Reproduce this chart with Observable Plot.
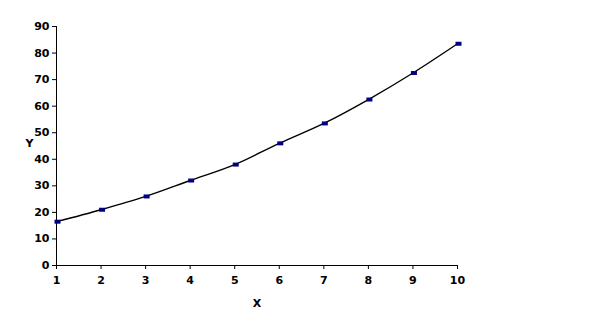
<!DOCTYPE html>
<html>
<head>
<meta charset="utf-8">
<script src="https://cdn.jsdelivr.net/npm/d3@7"></script>
<script src="https://cdn.jsdelivr.net/npm/@observablehq/plot@0.6"></script>
<style>
  html, body { margin: 0; padding: 0; background: #fff; }
  svg { display: block; }
</style>
</head>
<body>
<div id="chart"></div>
<script>
const xs = [1, 2, 3, 4, 5, 6, 7, 8, 9, 10];
const ys = [16.5, 21, 26, 32, 38, 46, 53.5, 62.5, 72.5, 83.5];
const xTicks = [1, 2, 3, 4, 5, 6, 7, 8, 9, 10];
const yTicks = [0, 10, 20, 30, 40, 50, 60, 70, 80, 90];

const data = xs.map((x, i) => ({x, y: ys[i]}));

const rectSymbol = { draw(ctx) { ctx.rect(-3, -2, 6, 4); } };

const chart = Plot.plot({
  width: 590,
  height: 335,
  marginLeft: 56,
  marginRight: 133,
  marginTop: 26,
  marginBottom: 70,
  style: { fontFamily: "DejaVu Sans", fontSize: "11px", fontWeight: "bold", color: "#000", background: "#fff" },
  x: { domain: [1, 10], ticks: xTicks, label: null },
  y: { domain: [0, 90], ticks: yTicks, label: null },
  marks: [
    Plot.axisX({ ticks: xTicks, tickSize: 4, tickPadding: 7, label: null, stroke: "#000", fill: "#000" }),
    Plot.axisY({ ticks: yTicks, tickSize: 4, tickPadding: 3, label: null, stroke: "#000", fill: "#000" }),
    Plot.ruleY([0], { stroke: "#000", strokeWidth: 1 }),
    Plot.ruleX([1], { stroke: "#000", strokeWidth: 1 }),
    Plot.line(data, { x: "x", y: "y", stroke: "#000", strokeWidth: 1.4, curve: "catmull-rom" }),
    Plot.dot(data, { x: "x", y: "y", symbol: rectSymbol, fill: "#000080", stroke: "none", dx: 1 }),
    Plot.text(["Y"], { frameAnchor: "left", dx: -31, dy: -3, text: d => d, fill: "#000", fontSize: 11, fontWeight: "bold" }),
    Plot.text(["X"], { frameAnchor: "bottom", dy: 41, text: d => d, fill: "#000", fontSize: 11, fontWeight: "bold" })
  ]
});
document.getElementById("chart").appendChild(chart);
</script>
</body>
</html>
